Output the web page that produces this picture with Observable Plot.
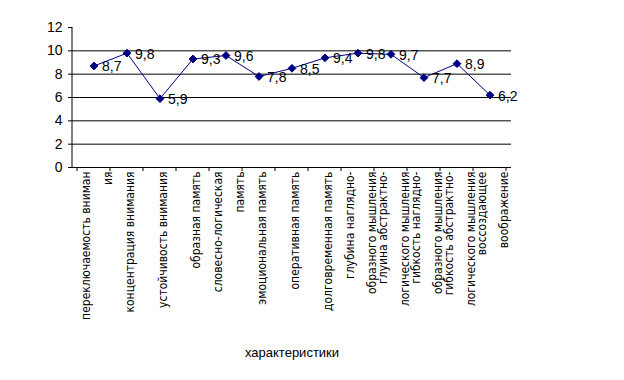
<!DOCTYPE html>
<html>
<head>
<meta charset="utf-8">
<script src="https://cdn.jsdelivr.net/npm/d3@7"></script>
<script src="https://cdn.jsdelivr.net/npm/@observablehq/plot@0.6"></script>
<style>
  html, body { margin: 0; padding: 0; background: #fff; }
  svg { display: block; }
</style>
</head>
<body>
<div id="chart"></div>
<script>
const categories = [
  "переключаемость вниман\nия",
  "концентрация внимания",
  "устойчивость внимания",
  "образная память",
  "словесно-логическая\nпамять",
  "эмоциональная память",
  "оперативная память",
  "долговременная память",
  "глубина наглядно-\nобразного мышления",
  "глуина абстрактно-\nлогического мышления",
  "гибкость наглядно-\nобразного мышления",
  "гибкость абстрактно-\nлогического мышления",
  "воссоздающее\nвоображение"
];
const values = [8.7, 9.8, 5.9, 9.3, 9.6, 7.8, 8.5, 9.4, 9.8, 9.7, 7.7, 8.9, 6.2];
const yTicks = [0, 2, 4, 6, 8, 10, 12];
const gridValues = [2, 4, 6, 8, 10];
const xTitle = "характеристики";

const data = categories.map((c, i) => ({c, v: values[i]}));

function frameLines(index, scales, values, dimensions) {
  const {x, y} = scales;
  const g = d3.create("svg:g").attr("stroke", "black").attr("stroke-width", 1);
  const bw = x.bandwidth();
  const edges = categories.map(c => x(c)).concat([x(categories[categories.length - 1]) + bw]);
  const y0 = y(0);
  edges.forEach(e => {
    g.append("line").attr("x1", e).attr("x2", e).attr("y1", y0).attr("y2", y0 + 4);
  });
  const xl = dimensions.marginLeft;
  g.append("line").attr("x1", xl).attr("x2", xl).attr("y1", y(12)).attr("y2", y0);
  return g.node();
}

const chart = Plot.plot({
  width: 624,
  height: 380,
  marginLeft: 72,
  marginRight: 113,
  marginTop: 27,
  marginBottom: 213,
  style: {fontFamily: "'Liberation Sans', Arial, sans-serif", background: "#fff", overflow: "visible"},
  x: {type: "band", domain: categories, padding: 0, axis: null},
  y: {domain: [0, 12], axis: null},
  marks: [
    Plot.ruleY(gridValues, {stroke: "black", strokeWidth: 1}),
    Plot.ruleY([0], {stroke: "black", strokeWidth: 1}),
    frameLines,
    Plot.axisY({ticks: yTicks, label: null, tickSize: 4, tickPadding: 6, fontSize: 14, tickFormat: d => String(d), stroke: "black", fill: "black"}),
    Plot.lineY(data, {x: "c", y: "v", stroke: "#000080", strokeWidth: 1}),
    Plot.dot(data, {x: "c", y: "v", symbol: "diamond2", r: 3.5, fill: "#000080", stroke: "#000080", strokeWidth: 1}),
    Plot.text(data, {x: "c", y: "v", text: d => d.v.toFixed(1).replace(".", ","), textAnchor: "start", dx: 8, dy: 1, fontSize: 14, fill: "black"}),
    Plot.text(categories, {x: d => d, y: () => 0, text: d => d, rotate: -90, dy: 4, textAnchor: "end", lineAnchor: "middle", lineHeight: 1.8, fontSize: 12, fontFamily: "'Liberation Sans Narrow', 'DejaVu Sans Condensed', sans-serif", fill: "black"}),
    Plot.text([xTitle], {frameAnchor: "bottom", dy: 185, lineAnchor: "middle", fontSize: 13, fill: "black"})
  ]
});

document.getElementById("chart").appendChild(chart);
</script>
</body>
</html>
